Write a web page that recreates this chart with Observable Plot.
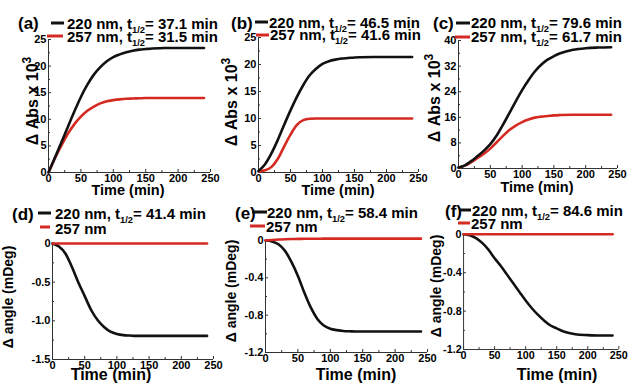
<!DOCTYPE html>
<html><head><meta charset="utf-8">
<script src="https://cdn.jsdelivr.net/npm/d3@7"></script>
<script src="https://cdn.jsdelivr.net/npm/@observablehq/plot@0.6"></script>
<style>
body{margin:0;background:#fff;}
#root{position:relative;width:632px;height:383px;overflow:hidden;background:#fff;font-family:"Liberation Sans",Arial,sans-serif;}
.panel{position:absolute;}
svg.overlay{position:absolute;left:0;top:0;pointer-events:none;}
</style></head><body><div id="root"></div>
<script>
// ---- data ----
const time = [0,10,20,30,40,50,60,70,80,90,100,110,120,130,140,150,160,180,200,220,240];
const xTicks = [0,50,100,150,200,250];
const xMinor = [25,75,125,175,225];

const aBlack = [0,2.8,5.7,8.6,11.5,14.2,16.5,18.4,19.8,20.9,21.7,22.2,22.6,22.9,23.1,23.2,23.3,23.4,23.4,23.4,23.4];
const aRed   = [0,2.7,5.1,7.3,9.1,10.5,11.6,12.4,13.0,13.4,13.6,13.75,13.85,13.9,13.95,14.0,14.0,14.0,14.0,14.0,14.0];
const bBlack = [0.3,1.5,3.5,6.0,8.8,11.5,14.0,16.2,18.0,19.2,20.1,20.6,20.9,21.1,21.2,21.3,21.35,21.4,21.4,21.4,21.4];
const bRed   = [0.2,0.4,1.0,2.5,4.8,7.0,8.8,9.7,9.95,10.0,10.0,10.0,10.0,10.0,10.0,10.0,10.0,10.0,10.0,10.0,10.0];
const cBlack = [0.3,1.0,2.3,3.9,5.6,7.6,10.3,13.7,17.3,21.0,24.5,27.6,30.3,32.4,34.0,35.1,36.0,37.1,37.6,37.8,37.9];
const cRed   = [0.3,0.9,2.0,3.3,4.6,6.2,8.2,10.2,12.0,13.4,14.5,15.3,15.9,16.2,16.4,16.6,16.7,16.8,16.8,16.8,16.8];
const dBlack = [0,-0.04,-0.13,-0.30,-0.50,-0.68,-0.86,-0.99,-1.08,-1.14,-1.17,-1.185,-1.19,-1.195,-1.195,-1.195,-1.195,-1.195,-1.195,-1.195,-1.195];
const dRed   = [0,0,0,0,0,0,0,0,0,0,0,0,0,0,0,0,0,0,0,0,0];
const eBlack = [0,-0.01,-0.04,-0.11,-0.23,-0.38,-0.56,-0.72,-0.84,-0.91,-0.945,-0.96,-0.97,-0.973,-0.975,-0.975,-0.975,-0.975,-0.975,-0.975,-0.975];
const eRed   = [0,0.006,0.011,0.014,0.016,0.017,0.018,0.019,0.019,0.02,0.02,0.02,0.02,0.02,0.02,0.02,0.02,0.02,0.02,0.02,0.02];
const fBlack = [0,-0.01,-0.04,-0.09,-0.16,-0.25,-0.33,-0.42,-0.51,-0.60,-0.69,-0.77,-0.84,-0.90,-0.95,-0.98,-1.01,-1.04,-1.05,-1.055,-1.055];
const fRed   = [0,0,0,0,0,0,0,0,0,0,0,0,0,0,0,0,0,0,0,0,0];

const absTicks = [0,5,10,15,20,25];
const absTicksC = [0,8,16,24,32,40];
const angTicksD = [-1.5,-1.0,-0.5,0];
const angTicksE = [-1.2,-0.8,-0.4,0];

const tags = ["(a)","(b)","(c)","(d)","(e)","(f)"];
const line1 = [["220 nm, t","1/2","= 37.1 min"],["220 nm, t","1/2","= 46.5 min"],["220 nm, t","1/2","= 79.6 min"],
               ["220 nm, t","1/2","= 41.4 min"],["220 nm, t","1/2","= 58.4 min"],["220 nm, t","1/2","= 84.6 min"]];
const line2 = [["257 nm, t","1/2","= 31.5 min"],["257 nm, t","1/2","= 41.6 min"],["257 nm, t","1/2","= 61.7 min"],
               ["257 nm"],["257 nm"],["257 nm"]];
const xLabel = "Time (min)";
const yLabelAbs = ["Δ Abs x 10","3"];
const yLabelAng = "Δ angle (mDeg)";

// ---- layout ----
const BLACK = "#111", RED = "#d42a22", AXIS = "#333";
const FONT = '"Liberation Sans", Arial, sans-serif';
const fmtAbs = d => String(d);
const fmtAng = d => d === 0 ? "0" : d.toFixed(1);
const panels = [
  {x0:48,  x1:210, yT:39,  yB:172, dom:[0,25],    ticks:absTicks,  fmt:fmtAbs, black:aBlack, red:aRed, redTop:false},
  {x0:258, x1:418, yT:37,  yB:172, dom:[0,25],    ticks:absTicks,  fmt:fmtAbs, black:bBlack, red:bRed, redTop:false},
  {x0:458, x1:617, yT:40,  yB:168, dom:[0,40],    ticks:absTicksC, fmt:fmtAbs, black:cBlack, red:cRed, redTop:false},
  {x0:52,  x1:213, yT:243, yB:359, dom:[-1.5,0],  ticks:angTicksD, fmt:fmtAng, black:dBlack, red:dRed, redTop:true},
  {x0:265, x1:427, yT:240, yB:352, dom:[-1.2,0],  ticks:angTicksE, fmt:fmtAng, black:eBlack, red:eRed, redTop:true},
  {x0:464, x1:623, yT:234, yB:352, dom:[-1.2,0],  ticks:angTicksE, fmt:fmtAng, black:fBlack, red:fRed, redTop:true}
];
const legendPos = [
  {tag:[18,29],  s1:[51,64,23],  t1:[67,29],  s2:[47,63,36],  t2:[67,42]},
  {tag:[231,29], s1:[255,268,22],t1:[269,28], s2:[256,269,35],t2:[270,40]},
  {tag:[433,29], s1:[456,470,23],t1:[471,28], s2:[455,470,37],t2:[471,42]},
  {tag:[12,220], s1:[38,51,213], t1:[55,219], s2:[40,50,227], t2:[55,234]},
  {tag:[235,219],s1:[252,267,212],t1:[267,218],s2:[250,265,226],t2:[266,232]},
  {tag:[445,217],s1:[460,471,210],t1:[472,216],s2:[458,470,223],t2:[471,229]}
];
const yLabPos = [[38,101,16],[237,102,16],[440,98,16],[13,297,14],[236,291,14],[441,286,14]];
const xLabPos = [[128,195,14.5],[338,195,14.5],[537,192,14.5],[111,380,16],[356,380,16],[557,380,16]];

const root = document.getElementById("root");
const ML = 40, MR = 14, MT = 8, MB = 26;

panels.forEach((p, i) => {
  const blackData = time.map((t, j) => ({t, v: p.black[j]}));
  const redData = time.map((t, j) => ({t, v: p.red[j]}));
  const minorY = d3.pairs(p.ticks).map(([a, b]) => (a + b) / 2);
  const lineB = Plot.line(blackData, {x:"t", y:"v", stroke:BLACK, strokeWidth:2.6, curve:"monotone-x"});
  const lineR = Plot.line(redData, {x:"t", y:"v", stroke:RED, strokeWidth:2.6, curve:"monotone-x"});
  const chart = Plot.plot({
    width: (p.x1 - p.x0) + ML + MR,
    height: (p.yB - p.yT) + MT + MB,
    marginLeft: ML, marginRight: MR, marginTop: MT, marginBottom: MB,
    style: {background:"transparent", overflow:"visible", fontFamily:FONT, fontWeight:"bold", fontSize:"11px", color:AXIS},
    x: {domain:[0,250]},
    y: {domain:p.dom},
    marks: [
      Plot.axisX({ticks:xTicks, tickSize:-3, tickPadding:5, label:null, tickFormat:d => String(d), fill:"#000"}),
      Plot.axisX({ticks:xMinor, tickSize:-2, label:null, fill:"none"}),
      Plot.axisY({ticks:p.ticks, tickSize:-3, tickPadding:5, label:null, tickFormat:p.fmt, fill:"#000"}),
      Plot.axisY({ticks:minorY, tickSize:-2, label:null, fill:"none"}),
      Plot.ruleX([0], {stroke:AXIS}),
      Plot.ruleY([p.dom[0]], {stroke:AXIS}),
      ...(p.redTop ? [lineB, lineR] : [lineR, lineB])
    ]
  });
  const div = document.createElement("div");
  div.className = "panel";
  div.style.left = (p.x0 - ML) + "px";
  div.style.top = (p.yT - MT) + "px";
  div.appendChild(chart);
  root.appendChild(div);
});

// ---- overlay texts (legends, axis labels) ----
const svg = d3.select(root).append("svg").attr("class","overlay")
  .attr("width",632).attr("height",383)
  .style("font-family",FONT).style("font-weight","bold");

function richText(g, parts, size) {
  const t = g.append("text").attr("font-size", size).attr("fill","#000");
  t.append("tspan").text(parts[0]);
  if (parts.length > 1) {
    t.append("tspan").attr("font-size", size * 0.62).attr("dy", size * 0.28).text(parts[1]);
    t.append("tspan").attr("dy", -size * 0.28).text(parts[2]);
  }
  return t;
}

panels.forEach((p, i) => {
  const L = legendPos[i];
  svg.append("text").attr("x",L.tag[0]).attr("y",L.tag[1]).attr("font-size",17).text(tags[i]);
  svg.append("line").attr("x1",L.s1[0]).attr("x2",L.s1[1]).attr("y1",L.s1[2]).attr("y2",L.s1[2])
    .attr("stroke",BLACK).attr("stroke-width",3);
  svg.append("line").attr("x1",L.s2[0]).attr("x2",L.s2[1]).attr("y1",L.s2[2]).attr("y2",L.s2[2])
    .attr("stroke",RED).attr("stroke-width",3);
  richText(svg, line1[i], 15).attr("x",L.t1[0]).attr("y",L.t1[1]);
  richText(svg, line2[i], 15).attr("x",L.t2[0]).attr("y",L.t2[1]);

  const [xx, xy, xs] = xLabPos[i];
  svg.append("text").attr("x",xx).attr("y",xy).attr("font-size",xs).attr("text-anchor","middle").text(xLabel);

  const [yx, yy, ys] = yLabPos[i];
  const yt = svg.append("text").attr("font-size",ys).attr("text-anchor","middle")
    .attr("transform",`translate(${yx},${yy}) rotate(-90)`);
  if (i < 3) {
    yt.append("tspan").text(yLabelAbs[0]);
    yt.append("tspan").attr("font-size",ys*0.75).attr("dy",-ys*0.45).text(yLabelAbs[1]);
  } else {
    yt.text(yLabelAng);
  }
});
</script></body></html>
